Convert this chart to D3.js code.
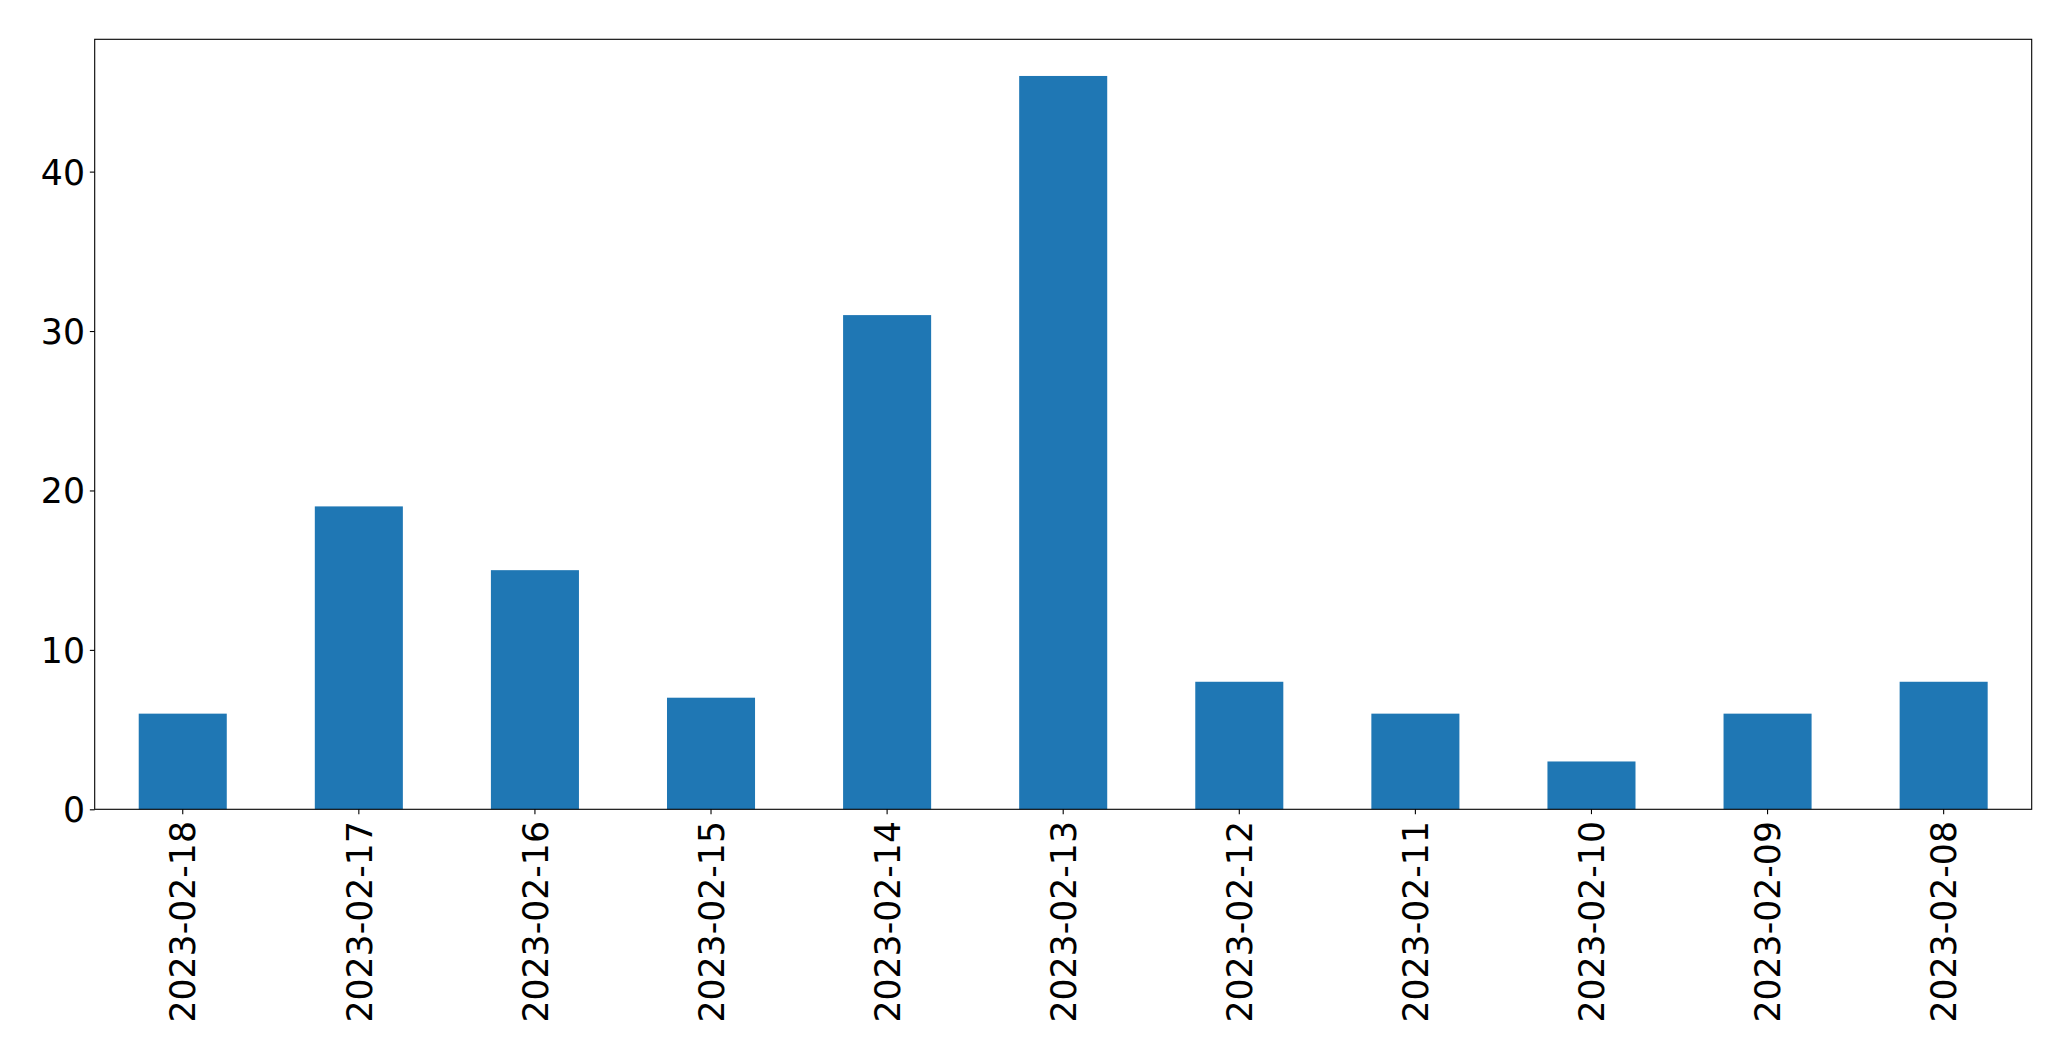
<!DOCTYPE html>
<html>
<head>
<meta charset="utf-8">
<script src="https://cdn.jsdelivr.net/npm/d3@7"></script>
<style>
  html, body { margin: 0; padding: 0; background: #ffffff; }
  svg { display: block; }
  text { font-family: "DejaVu Sans", sans-serif; fill: #000; }
</style>
</head>
<body>
<svg id="chart" width="2071" height="1061"></svg>
<script>
const categories = ["2023-02-18","2023-02-17","2023-02-16","2023-02-15","2023-02-14","2023-02-13","2023-02-12","2023-02-11","2023-02-10","2023-02-09","2023-02-08"];
const counts = [6, 19, 15, 7, 31, 46, 8, 6, 3, 6, 8];
const yTicks = [0, 10, 20, 30, 40];

const W = 2071, H = 1061;
const margin = { left: 94.7, right: W - 2031.7, top: 39.3, bottom: H - 809.3 };
const svg = d3.select("#chart");
const innerW = W - margin.left - margin.right;
const innerH = H - margin.top - margin.bottom;
const g = svg.append("g").attr("transform", `translate(${margin.left},${margin.top})`);

const x = d3.scaleBand().domain(categories).range([0, innerW]).paddingInner(0.5).paddingOuter(0.25);
const y = d3.scaleLinear().domain([0, d3.max(counts) * 1.05]).range([innerH, 0]);

g.selectAll("rect.bar").data(categories).enter().append("rect")
  .attr("class", "bar")
  .attr("x", d => x(d))
  .attr("width", x.bandwidth())
  .attr("y", (d, i) => y(counts[i]))
  .attr("height", (d, i) => y(0) - y(counts[i]))
  .attr("fill", "#1f77b4");

const fs = 34.7;
const tickLen = 4.86, pad = 4.86;

const yAxis = d3.axisLeft(y).tickValues(yTicks).tickFormat(d3.format("d")).tickSize(tickLen).tickPadding(pad);
const ya = g.append("g").call(yAxis);
ya.select(".domain").remove();
ya.selectAll(".tick line").attr("stroke", "#000").attr("stroke-width", 1.1);
ya.selectAll(".tick text").attr("font-size", fs).attr("font-family", "DejaVu Sans").attr("dy", "0.36em").attr("fill", "#000");

const xAxis = d3.axisBottom(x).tickSize(tickLen).tickPadding(0);
const xa = g.append("g").attr("transform", `translate(0,${innerH})`).call(xAxis);
xa.select(".domain").remove();
xa.selectAll(".tick line").attr("stroke", "#000").attr("stroke-width", 1.1);
xa.selectAll(".tick text")
  .attr("font-size", fs).attr("font-family", "DejaVu Sans").attr("fill", "#000")
  .attr("text-anchor", "end")
  .attr("transform", `translate(0,${tickLen + pad + 2}) rotate(-90)`)
  .attr("x", 0).attr("y", 0).attr("dy", "0.365em");

g.append("rect").attr("x", 0).attr("y", 0).attr("width", innerW).attr("height", innerH)
  .attr("fill", "none").attr("stroke", "#000").attr("stroke-width", 1.1);
</script>
</body>
</html>
